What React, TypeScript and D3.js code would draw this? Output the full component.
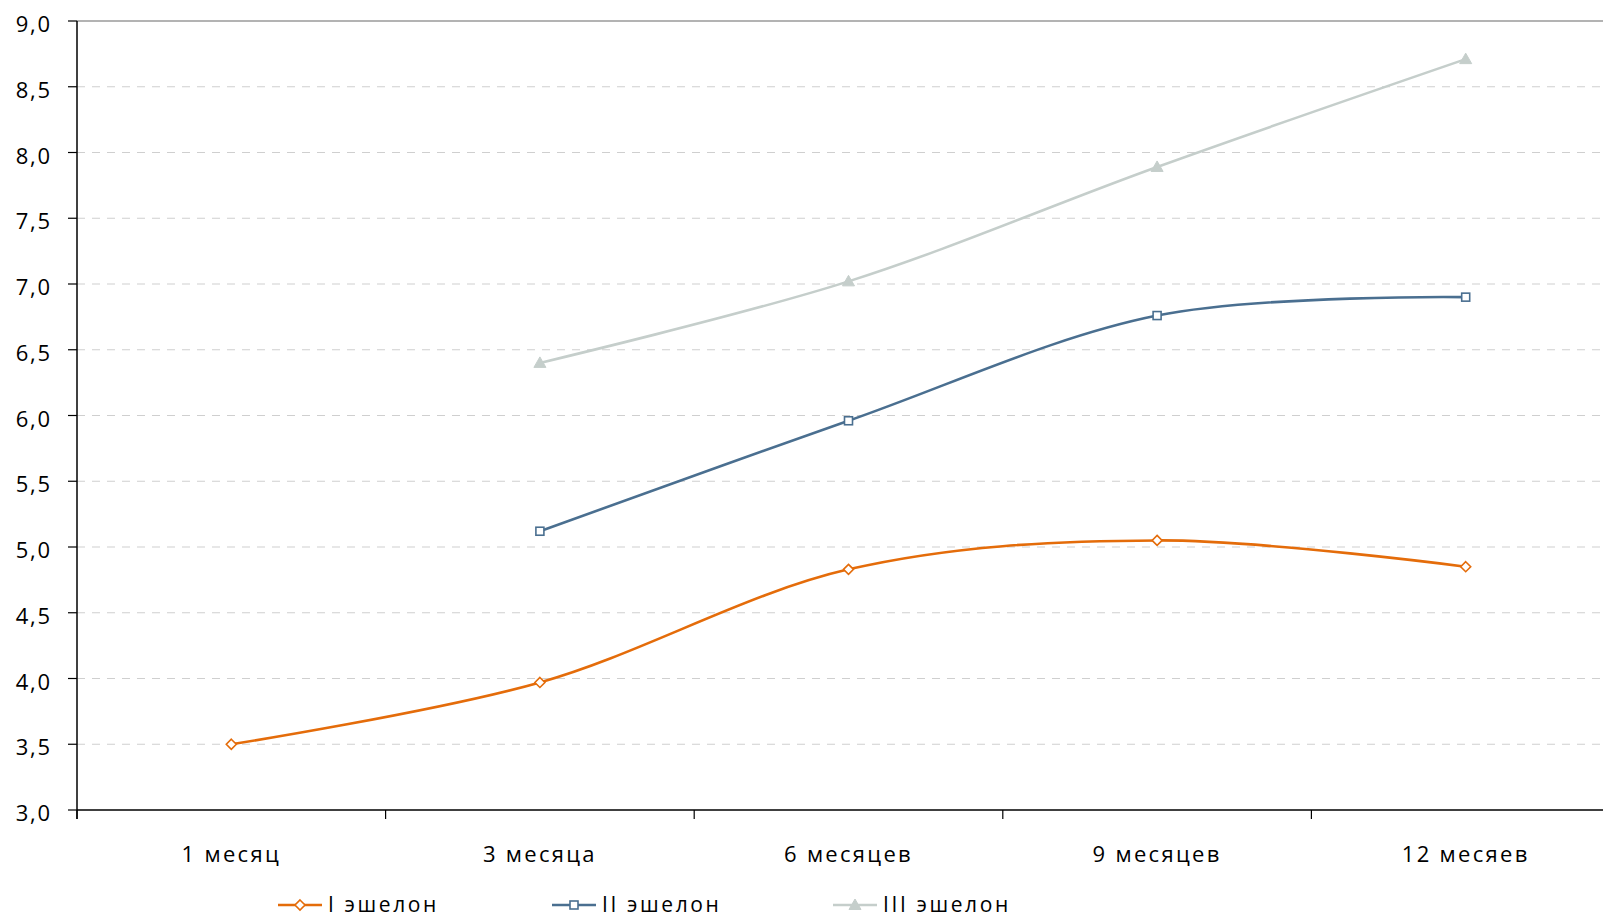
import React from "react";
import * as d3 from "d3";

const categories = ["1 месяц", "3 месяца", "6 месяцев", "9 месяцев", "12 месяев"];
const seriesNames = ["I эшелон", "II эшелон", "III эшелон"];
const echelon1: (number | null)[] = [3.5, 3.97, 4.83, 5.05, 4.85];
const echelon2: (number | null)[] = [null, 5.12, 5.96, 6.76, 6.9];
const echelon3: (number | null)[] = [null, 6.4, 7.02, 7.89, 8.71];
const yTicks = [3.0, 3.5, 4.0, 4.5, 5.0, 5.5, 6.0, 6.5, 7.0, 7.5, 8.0, 8.5, 9.0];

const W = 1603;
const H = 918;
const left = 77;
const top = 21;
const bottom = 810;
const band = 308.6;
const FONT = "'Open Sans', 'Noto Sans', sans-serif";

const colors = ["#E46C0A", "#4A6F90", "#C5CECB"];
const markers = ["diamond", "square", "triangle"];

function Marker({ type, x, y, color }: { type: string; x: number; y: number; color: string }) {
  if (type === "diamond") {
    const s = 5;
    return (
      <path
        d={`M${x},${y - s}L${x + s},${y}L${x},${y + s}L${x - s},${y}Z`}
        fill="#fff"
        stroke={color}
        strokeWidth={1.6}
      />
    );
  }
  if (type === "square") {
    const s = 4;
    return <rect x={x - s} y={y - s} width={2 * s} height={2 * s} fill="#fff" stroke={color} strokeWidth={1.6} />;
  }
  const s = 6;
  return <path d={`M${x},${y - s}L${x + s},${y + s * 0.75}L${x - s},${y + s * 0.75}Z`} fill={color} stroke={color} strokeWidth={1} />;
}

export default function App() {
  const x = d3
    .scaleBand<string>()
    .domain(categories)
    .range([left, left + band * categories.length])
    .paddingInner(0)
    .paddingOuter(0);
  const y = d3.scaleLinear().domain([3, 9]).range([bottom, top]);
  const cx = (c: string) => (x(c) as number) + x.bandwidth() / 2;

  const allSeries = [echelon1, echelon2, echelon3];

  const line = d3
    .line<{ c: string; v: number | null }>()
    .defined((d) => d.v !== null)
    .x((d) => cx(d.c))
    .y((d) => y(d.v as number))
    .curve(d3.curveCatmullRom.alpha(0));

  const legendX = [278, 552, 833];
  const legendY = 905;

  return (
    <svg
      width={W}
      height={H}
      style={{ position: "absolute", left: 0, top: 0, background: "#fff" }}
      fontFamily={FONT}
    >
      {/* gridlines */}
      {yTicks.map((t) =>
        t === 3 ? null : (
          <line
            key={"g" + t}
            x1={left}
            x2={W}
            y1={y(t)}
            y2={y(t)}
            stroke={t === 9 ? "#9A9A9A" : "#CFCFCF"}
            strokeWidth={t === 9 ? 1.5 : 1.2}
            strokeDasharray={t === 9 ? undefined : "8,7"}
          />
        )
      )}
      {/* y axis */}
      <line x1={left} x2={left} y1={top} y2={bottom + 9} stroke="#000" strokeWidth={1.5} />
      {yTicks.map((t) => (
        <g key={"yt" + t}>
          <line x1={left - 9} x2={left} y1={y(t)} y2={y(t)} stroke="#000" strokeWidth={1.2} />
          <text
            x={52}
            y={y(t) + 11}
            textAnchor="end"
            fontSize={22}
            letterSpacing={1.8}
            fill="#000"
          >
            {t.toFixed(1).replace(".", ",")}
          </text>
        </g>
      ))}
      {/* x axis */}
      <line x1={left} x2={W} y1={bottom} y2={bottom} stroke="#000" strokeWidth={1.5} />
      {categories.map((c) => (
        <g key={"xt" + c}>
          <line x1={x(c) as number} x2={x(c) as number} y1={bottom} y2={bottom + 9} stroke="#000" strokeWidth={1.2} />
          <text x={cx(c)} y={862} textAnchor="middle" fontSize={22} letterSpacing={2.3} fill="#000">
            {c}
          </text>
        </g>
      ))}
      {/* series */}
      {allSeries.map((s, i) => {
        const data = categories.map((c, j) => ({ c, v: s[j] }));
        return (
          <g key={"s" + i}>
            <path d={line(data) || ""} fill="none" stroke={colors[i]} strokeWidth={2.6} />
            {data
              .filter((d) => d.v !== null)
              .map((d) => (
                <Marker key={d.c} type={markers[i]} x={cx(d.c)} y={y(d.v as number)} color={colors[i]} />
              ))}
          </g>
        );
      })}
      {/* legend */}
      {seriesNames.map((n, i) => (
        <g key={"l" + i}>
          <line x1={legendX[i]} x2={legendX[i] + 44} y1={legendY} y2={legendY} stroke={colors[i]} strokeWidth={2.6} />
          <Marker type={markers[i]} x={legendX[i] + 22} y={legendY} color={colors[i]} />
          <text x={legendX[i] + 50} y={legendY + 7} fontSize={21} letterSpacing={2.6} fill="#000">
            {n}
          </text>
        </g>
      ))}
    </svg>
  );
}
